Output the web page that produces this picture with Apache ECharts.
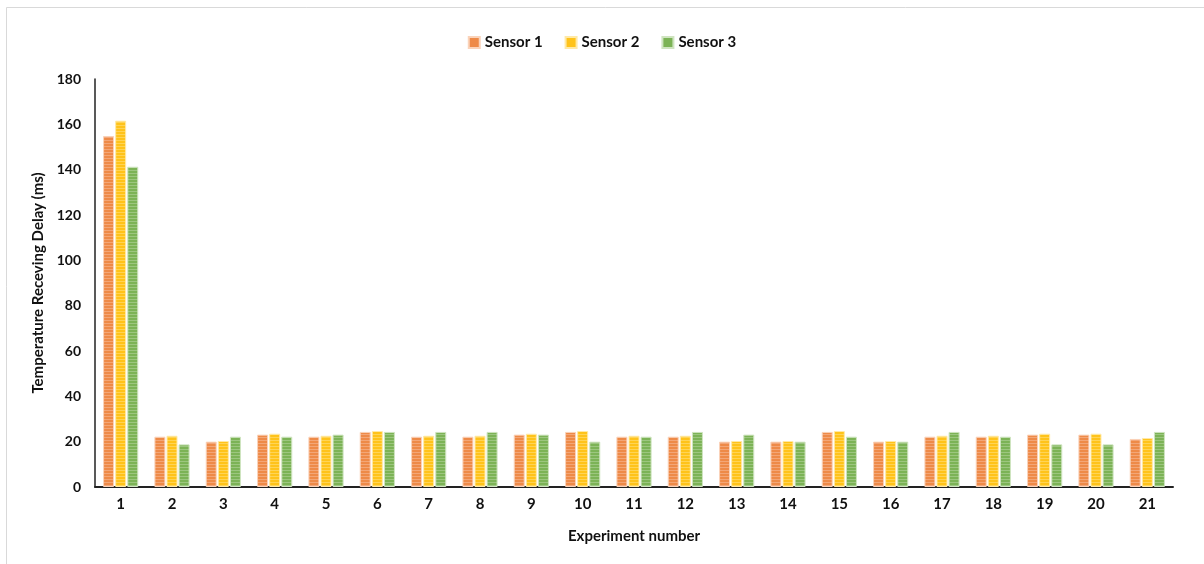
<!DOCTYPE html>
<html>
<head>
<meta charset="utf-8">
<script src="https://cdn.jsdelivr.net/npm/echarts@6/dist/echarts.min.js"></script>
<style>
html,body{margin:0;padding:0;background:#fff;}
#chart{width:1204px;height:564px;}
</style>
</head>
<body>
<div id="chart"></div>
<script>
const categories = ['1','2','3','4','5','6','7','8','9','10','11','12','13','14','15','16','17','18','19','20','21'];
const sensor1 = [154.8,22.2,20,23.1,22.2,24.3,22.2,22.2,23.1,24.3,22.2,22.2,20,20,24.3,20,22.2,22.2,23.1,23.1,21.2];
const sensor2 = [161.6,22.6,20.3,23.5,22.6,24.7,22.6,22.6,23.5,24.7,22.6,22.6,20.3,20.3,24.7,20.3,22.6,22.6,23.5,23.5,21.6];
const sensor3 = [141.3,18.8,22.2,22.2,23.1,24.3,24.3,24.3,23.1,20,22.2,24.3,23.1,20,22.2,20,24.3,22.2,18.8,18.8,24.3];
const seriesNames = ['Sensor 1','Sensor 2','Sensor 3'];
const yTicks = [0,20,40,60,80,100,120,140,160,180];

function stripe(base, light){
  const c = document.createElement('canvas');
  c.width = 4; c.height = 3;
  const g = c.getContext('2d');
  g.fillStyle = base; g.fillRect(0,0,4,3);
  g.fillStyle = light; g.fillRect(0,2,4,1);
  return {image:c, repeat:'repeat'};
}
const colors = ['#EE8A48','#FFC31A','#7CB356'];
const lights = ['#F3A677','#FFD455','#9CC67F'];
const borders = ['#FAD3BA','#FFE9A6','#CFE4C0'];
const font = 'Lato, "Liberation Sans", sans-serif';

const chart = echarts.init(document.getElementById('chart'));
const data = [sensor1, sensor2, sensor3];
chart.setOption({
  animation:false,
  backgroundColor:'#fff',
  graphic:[{type:'rect',shape:{x:6.5,y:7.5,width:1300,height:600},style:{fill:'none',stroke:'#d9d9d9',lineWidth:1},silent:true}],
  legend:{
    top:30, left:'center', itemWidth:11, itemHeight:11, itemGap:22,
    icon:'rect',
    textStyle:{fontFamily:font,fontWeight:'bold',fontSize:15,color:'#111'},
    data:seriesNames.map((n,i)=>({name:n,itemStyle:{color:colors[i]}}))
  },
  grid:{left:95,right:31,top:79,bottom:77},
  xAxis:{
    type:'category', data:categories,
    axisLine:{lineStyle:{color:'#222',width:2}},
    axisTick:{show:false},
    axisLabel:{fontFamily:font,fontWeight:'bold',fontSize:15,color:'#111',margin:10},
    name:'Experiment number', nameLocation:'middle', nameGap:42,
    nameTextStyle:{fontFamily:font,fontWeight:'bold',fontSize:15,color:'#111'}
  },
  yAxis:{
    type:'value', min:0, max:180, interval:20,
    axisLine:{show:true,lineStyle:{color:'#222',width:1.5}},
    axisTick:{show:false},
    splitLine:{show:false},
    axisLabel:{fontFamily:font,fontWeight:'bold',fontSize:14,color:'#111',margin:14,
      formatter:v=>yTicks.includes(v)?String(v):''},
    name:'Temperature Receving Delay (ms)', nameLocation:'middle', nameGap:45,
    nameTextStyle:{fontFamily:font,fontWeight:'bold',fontSize:15,color:'#111'}
  },
  series:data.map((d,i)=>({
    name:seriesNames[i], type:'bar', data:d,
    barWidth:11, barGap:'10%',
    itemStyle:{color:stripe(colors[i],lights[i]),borderColor:borders[i],borderWidth:1}
  }))
});
</script>
</body>
</html>
